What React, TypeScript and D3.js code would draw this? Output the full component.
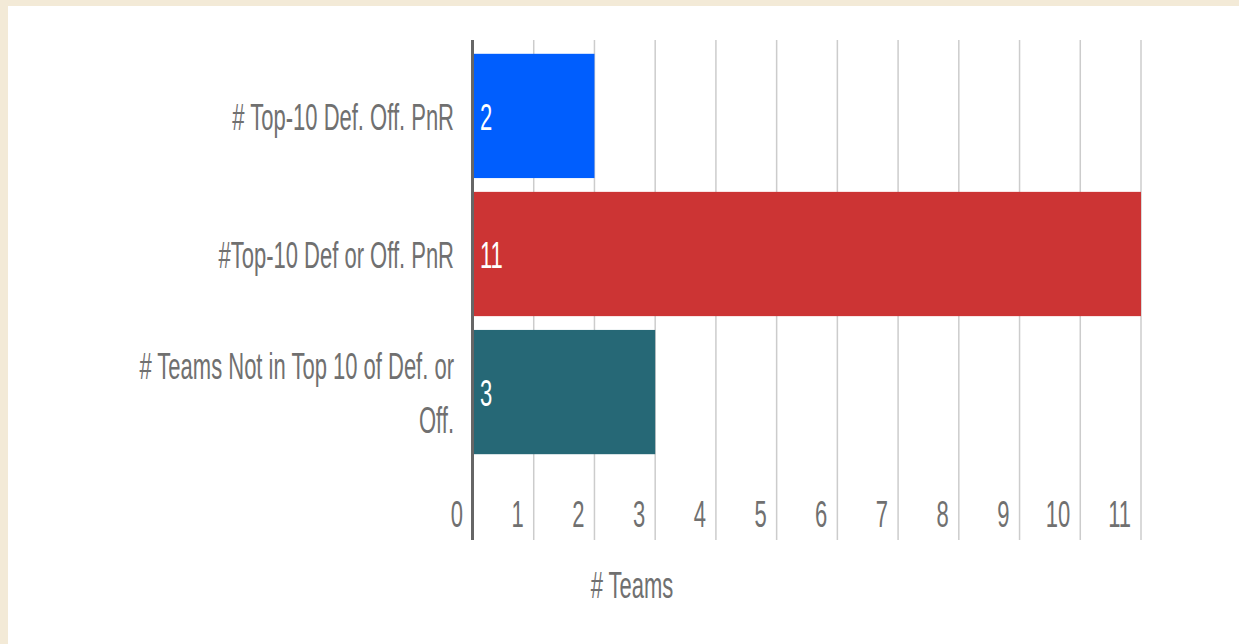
import React from "react";
import * as d3 from "d3";

const categories = [
  "# Top-10 Def. Off. PnR",
  "#Top-10 Def or Off. PnR",
  "# Teams Not in Top 10 of Def. or Off.",
];
const values = [2, 11, 3];
const barColors = ["#005efe", "#cc3434", "#266876"];
const ticks = [0, 1, 2, 3, 4, 5, 6, 7, 8, 9, 10, 11];
const axisTitle = "# Teams";

const W = 1239;
const H = 644;
const FS = 22;
const SY = 1.72;
const FONT = "'Liberation Sans', Arial, sans-serif";
const GRAY = "#707070";

function wrap(s: string, max: number): string[] {
  const words = s.split(" ");
  const lines: string[] = [];
  let cur = "";
  for (const w of words) {
    const t = cur ? cur + " " + w : w;
    if (t.length > max && cur) {
      lines.push(cur);
      cur = w;
    } else cur = t;
  }
  if (cur) lines.push(cur);
  return lines;
}

function T({ x, y, anchor = "start", fill = GRAY, children }: any) {
  return (
    <text
      transform={`translate(${x},${y}) scale(1,${SY})`}
      textAnchor={anchor}
      fill={fill}
      fontFamily={FONT}
      fontSize={FS}
    >
      {children}
    </text>
  );
}

export default function App() {
  const x = d3.scaleLinear().domain([0, 11]).range([473, 1141]);
  const y = d3
    .scaleBand<string>()
    .domain(categories)
    .range([40, 468])
    .paddingInner(0.1)
    .paddingOuter(0.1);
  const gridTop = 40;
  const gridBottom = 540;
  const lineGap = 54;

  return (
    <svg
      width={W}
      height={H}
      style={{ position: "absolute", left: 0, top: 0, display: "block" }}
    >
      <rect x={0} y={0} width={W} height={H} fill="#f3ead7" />
      <rect x={8} y={6} width={W - 8} height={H - 6} fill="#ffffff" />
      {ticks.map((t) =>
        t === 0 ? null : (
          <line
            key={"g" + t}
            x1={x(t)}
            x2={x(t)}
            y1={gridTop}
            y2={gridBottom}
            stroke="#cccccc"
            strokeWidth={1.5}
          />
        )
      )}
      {categories.map((c, i) => (
        <rect
          key={"b" + i}
          x={x(0)}
          y={y(c)!}
          width={x(values[i]) - x(0)}
          height={y.bandwidth()}
          fill={barColors[i]}
        />
      ))}
      <line
        x1={x(0) - 0.5}
        x2={x(0) - 0.5}
        y1={gridTop}
        y2={gridBottom}
        stroke="#666666"
        strokeWidth={3}
      />
      {categories.map((c, i) => {
        const lines = wrap(c, 32);
        const cy = y(c)! + y.bandwidth() / 2;
        const n = lines.length;
        return (
          <g key={"l" + i}>
            {lines.map((ln, j) => (
              <T
                key={j}
                x={454}
                y={cy + 14 + (j - (n - 1) / 2) * lineGap}
                anchor="end"
              >
                {ln}
              </T>
            ))}
          </g>
        );
      })}
      {categories.map((c, i) => (
        <T
          key={"v" + i}
          x={x(0) + 7}
          y={y(c)! + y.bandwidth() / 2 + 14}
          fill="#ffffff"
        >
          {values[i]}
        </T>
      ))}
      {ticks.map((t) => (
        <T key={"t" + t} x={x(t) - 10} y={527} anchor="end">
          {t}
        </T>
      ))}
      <T x={632} y={598} anchor="middle">
        {axisTitle}
      </T>
    </svg>
  );
}
